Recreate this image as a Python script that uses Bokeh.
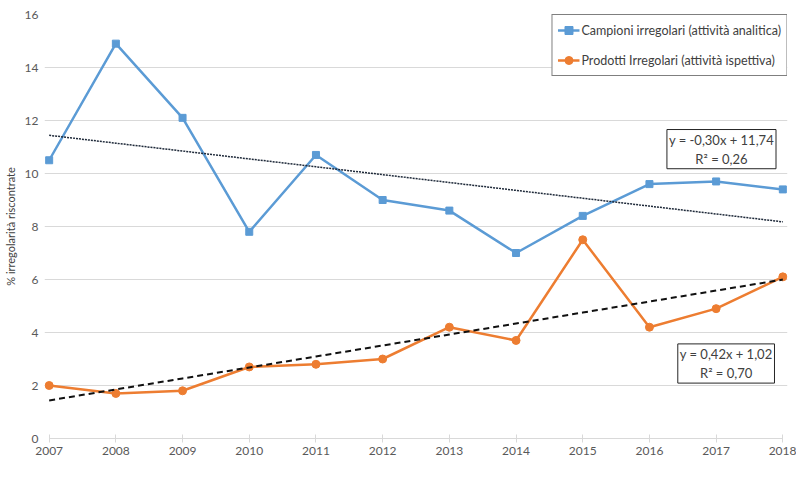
import numpy as np
from bokeh.plotting import figure
from bokeh.models import Range1d, Legend, LegendItem, Label, FixedTicker
from bokeh.embed import file_html
from bokeh.resources import INLINE

years = [2007, 2008, 2009, 2010, 2011, 2012, 2013, 2014, 2015, 2016, 2017, 2018]
campioni = [10.5, 14.9, 12.1, 7.8, 10.7, 9.0, 8.6, 7.0, 8.4, 9.6, 9.7, 9.4]
prodotti = [2.0, 1.7, 1.8, 2.7, 2.8, 3.0, 4.2, 3.7, 7.5, 4.2, 4.9, 6.1]
name_campioni = "Campioni irregolari (attività analitica)"
name_prodotti = "Prodotti Irregolari (attività ispettiva)"
eq_campioni = "y = -0,30x + 11,74\nR² = 0,26"
eq_prodotti = "y = 0,42x + 1,02\nR² = 0,70"
y_ticks = [0, 2, 4, 6, 8, 10, 12, 14, 16]
y_title = "% irregolarità riscontrate"

FONT = "Lato"
BLUE = "#5B9BD5"
ORANGE = "#ED7D31"

p = figure(width=796, height=461, output_backend="svg", toolbar_location=None,
           x_range=Range1d(2006.93, 2018.07), y_range=Range1d(0, 16),
           min_border_left=44, min_border_right=9, min_border_top=14, min_border_bottom=23)
p.outline_line_color = None
p.background_fill_color = "white"

# axes
p.xaxis.ticker = FixedTicker(ticks=years)
p.xaxis.bounds = (2007, 2018)
p.xaxis.axis_line_color = "#d9d9d9"
p.xaxis.major_tick_line_color = "#d9d9d9"
p.xaxis.major_tick_in = 4
p.xaxis.major_tick_out = 4
p.xaxis.minor_tick_line_color = None
p.xaxis.major_label_standoff = 4
p.xaxis.major_label_text_font = FONT
p.xaxis.major_label_text_font_size = "12px"
p.xaxis.major_label_text_color = "#595959"

p.yaxis.ticker = FixedTicker(ticks=y_ticks)
p.yaxis.axis_line_color = None
p.yaxis.major_tick_line_color = None
p.yaxis.minor_tick_line_color = None
p.yaxis.major_tick_in = 0
p.yaxis.major_tick_out = 0
p.yaxis.major_label_standoff = 6
p.yaxis.major_label_text_font = FONT
p.yaxis.major_label_text_font_size = "12px"
p.yaxis.major_label_text_color = "#595959"
p.yaxis.axis_label = y_title
p.yaxis.axis_label_text_font = FONT
p.yaxis.axis_label_text_font_size = "11px"
p.yaxis.axis_label_text_font_style = "normal"
p.yaxis.axis_label_text_color = "#404040"
p.yaxis.axis_label_standoff = 5

p.xgrid.grid_line_color = None
p.ygrid.grid_line_color = "#d9d9d9"
p.ygrid.ticker = FixedTicker(ticks=y_ticks)

# series
l1 = p.line(years, campioni, line_color=BLUE, line_width=2.5)
s1 = p.scatter(years, campioni, marker="square", size=7, fill_color=BLUE, line_color=BLUE)
l2 = p.line(years, prodotti, line_color=ORANGE, line_width=2.5)
s2 = p.scatter(years, prodotti, marker="circle", size=8, fill_color=ORANGE, line_color=ORANGE)

# linear trendlines (least squares on index 1..n, like Excel)
idx = np.arange(1, len(years) + 1)
m1, b1 = np.polyfit(idx, campioni, 1)
m2, b2 = np.polyfit(idx, prodotti, 1)
p.line(years, m1 * idx + b1, line_color="#1f2a3a", line_width=1.5, line_dash="2 1")
p.line(years, m2 * idx + b2, line_color="#111111", line_width=2, line_dash="6 4")

# legend
legend = Legend(items=[LegendItem(label=name_campioni, renderers=[l1, s1]),
                       LegendItem(label=name_prodotti, renderers=[l2, s2])],
                location="top_right")
legend.margin = 0
legend.padding = 5
legend.spacing = 10
legend.glyph_width = 22
legend.glyph_height = 20
legend.label_height = 20
legend.label_standoff = 2
legend.label_text_font = FONT
legend.label_text_font_size = "12.5px"
legend.label_text_color = "#404040"
legend.border_line_color = "black"
legend.border_line_width = 1
legend.background_fill_color = "white"
legend.background_fill_alpha = 1
p.add_layout(legend)

# equation labels
for txt, xx, yy in [(eq_campioni, 2017.08, 10.92), (eq_prodotti, 2017.15, 2.83)]:
    lab = Label(x=xx, y=yy, text=txt, text_align="center", text_baseline="middle",
                text_font=FONT, text_font_size="13px", text_color="#404040",
                text_line_height=1.2,
                border_line_color="#262626", border_line_width=1,
                background_fill_color="white", background_fill_alpha=1,
                padding=2)
    p.add_layout(lab)

open("out.html", "w").write(file_html(p, INLINE))
